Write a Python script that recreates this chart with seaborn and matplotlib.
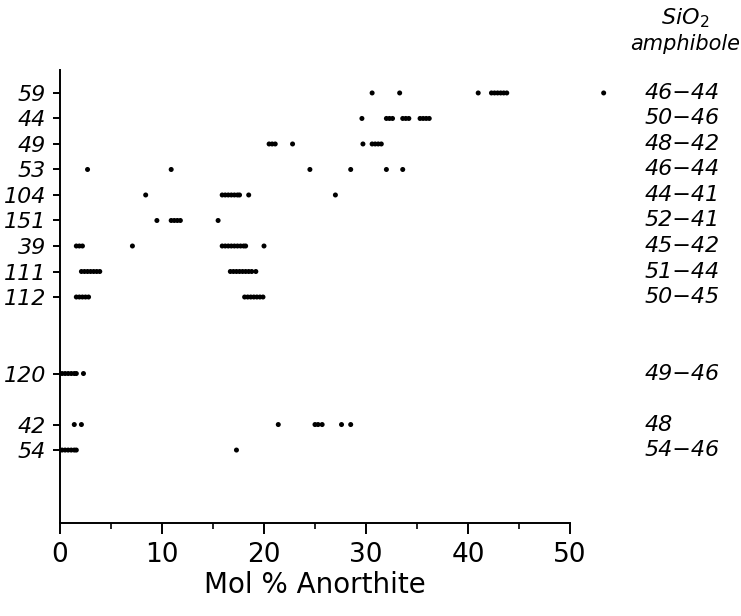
import pandas as pd
import seaborn as sns
import matplotlib.pyplot as plt

# sample labels, top to bottom, and their row slots (gaps left empty)
samples = ["59", "44", "49", "53", "104", "151", "39", "111", "112", "120", "42", "54"]
row_pos = [0, 1, 2, 3, 4, 5, 6, 7, 8, 11, 13, 14]
sio2_range = ["46\u221244", "50\u221246", "48\u221242", "46\u221244", "44\u221241", "52\u221241",
              "45\u221242", "51\u221244", "50\u221245", "49\u221246", "48", "54\u221246"]

# Mol % anorthite of each analysed plagioclase
an_59 = [30.6, 33.3, 41.0, 42.3, 42.6, 42.9, 43.2, 43.5, 43.8, 53.3]
an_44 = [29.6, 32.0, 32.3, 32.6, 33.6, 33.9, 34.2, 35.3, 35.6, 35.9, 36.2]
an_49 = [20.5, 20.8, 21.1, 22.8, 29.7, 30.6, 30.9, 31.2, 31.5]
an_53 = [2.7, 10.9, 24.5, 28.5, 32.0, 33.6]
an_104 = [8.4, 15.9, 16.2, 16.5, 16.8, 17.1, 17.4, 17.6, 18.5, 27.0]
an_151 = [9.5, 10.9, 11.2, 11.5, 11.8, 15.5]
an_39 = [1.6, 1.9, 2.2, 7.1, 15.9, 16.2, 16.5, 16.8, 17.1, 17.4, 17.7, 18.0, 18.2, 20.0]
an_111 = [2.1, 2.4, 2.7, 3.0, 3.3, 3.6, 3.9, 16.7, 17.0, 17.3, 17.6, 17.9, 18.2, 18.5, 18.8, 19.2]
an_112 = [1.6, 1.9, 2.2, 2.5, 2.8, 18.1, 18.4, 18.7, 19.0, 19.3, 19.6, 19.9]
an_120 = [0.2, 0.5, 0.8, 1.1, 1.4, 1.6, 2.3]
an_42 = [1.4, 2.1, 21.4, 25.0, 25.3, 25.7, 27.6, 28.5]
an_54 = [0.2, 0.5, 0.8, 1.1, 1.4, 1.6, 17.3]

an_values = [an_59, an_44, an_49, an_53, an_104, an_151, an_39, an_111, an_112, an_120, an_42, an_54]

rows = []
for sample, pos, vals in zip(samples, row_pos, an_values):
    for v in vals:
        rows.append({"sample": sample, "row": pos, "anorthite": v})
df = pd.DataFrame(rows)

sns.set_style("ticks")
plt.rcParams['font.family'] = ['DejaVu Sans']
plt.rcParams['text.color'] = 'black'
plt.rcParams['axes.labelcolor'] = 'black'
plt.rcParams['xtick.color'] = 'black'
plt.rcParams['ytick.color'] = 'black'
plt.rcParams['axes.edgecolor'] = 'black'

fig = plt.figure(figsize=(7.41, 6.16), dpi=100)
ax = fig.add_axes([60 / 741, 1 - 523 / 616, 510 / 741, 453 / 616])

sns.scatterplot(data=df, x="anorthite", y="row", color="black", s=13,
                edgecolor="none", ax=ax, legend=False, clip_on=False)

ax.set_xlim(0, 50)
ax.set_ylim(16.86, -0.9)
ax.set_xticks([0, 10, 20, 30, 40, 50])
ax.set_xticks([5, 15, 25, 35, 45], minor=True)
ax.set_yticks(row_pos)
ax.set_yticklabels(samples, fontstyle="italic", fontsize=16)
ax.tick_params(axis="x", which="major", labelsize=19, length=8, width=1.4, pad=6)
ax.tick_params(axis="x", which="minor", length=4, width=1.2)
ax.tick_params(axis="y", length=5, width=1.4, pad=5)
ax.set_xlabel("Mol % Anorthite", fontsize=20, labelpad=2)
ax.set_ylabel("")

sns.despine(ax=ax)
for side in ["left", "bottom"]:
    ax.spines[side].set_linewidth(1.4)

# amphibole SiO2 column on the right
for pos, txt in zip(row_pos, sio2_range):
    ax.text(57.3, pos, txt, fontsize=16, fontstyle="italic", ha="left", va="center", clip_on=False)
ax.text(61.3, -2.95, "SiO$_2$", fontsize=16, fontstyle="italic", ha="center", va="center")
ax.text(61.3, -1.9, "amphibole", fontsize=15, fontstyle="italic", ha="center", va="center")

fig.savefig("out.png", dpi=100)
